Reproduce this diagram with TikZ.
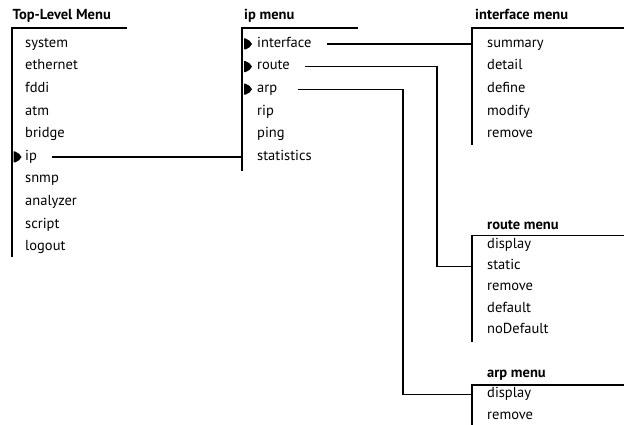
\documentclass[tikz,border=0pt]{standalone}
\usepackage{fontspec}
\setmainfont{PT Sans}
\begin{document}
\begin{tikzpicture}[x=1pt,y=-1pt,
  item/.style={anchor=west, inner sep=0pt, font=\fontsize{14.5}{16}\selectfont,
    text height=9.5pt, text depth=3pt},
  heading/.style={item, font=\fontsize{14.5}{16}\selectfont\bfseries},
  frame/.style={line width=1.1pt},
  link/.style={line width=1.1pt},
  pointer/.pic={\fill (-0.5,-5.5) -- (1,-5.5) .. controls (4,-5) and (6.5,-2) .. (7.5,0)
      .. controls (6.5,2) and (4,5) .. (1,5.5) -- (-0.5,5.5) -- cycle;}]
\useasboundingbox (0,0) rectangle (624,425);

% Top-Level Menu
\node[heading] (tl-title) at (12.5,16.5) {Top-Level Menu};
\coordinate (tl-top) at (12,28);
\coordinate (tl-bot) at (12,257);
\draw[frame] (127,28) -- (tl-top) -- (tl-bot);
\foreach \t [count=\i from 0] in {system,ethernet,fddi,atm,bridge,ip,snmp,analyzer,script,logout}
  \node[item] (tl-\t) at (25,44+22.6*\i) {\t};
\pic at (14,0 |- tl-ip.west) {pointer};

% ip menu
\node[heading] (ip-title) at (244,16.5) {ip menu};
\coordinate (ip-top) at (242,28);
\coordinate (ip-bot) at (242,171);
\draw[frame] (358,28) -- (ip-top) -- (ip-bot);
\foreach \t [count=\i from 0] in {interface,route,arp,rip,ping,statistics}
  \node[item] (ip-\t) at (257,44+22.6*\i) {\t};
\foreach \t in {interface,route,arp}
  \pic at (244.5,0 |- ip-\t.west) {pointer};

% interface menu
\node[heading] (if-title) at (475,16.5) {interface menu};
\coordinate (if-top) at (472,28);
\coordinate (if-bot) at (472,145);
\draw[frame] (624,28) -- (if-top) -- (if-bot);
\foreach \t [count=\i from 0] in {summary,detail,define,modify,remove}
  \node[item] (if-\t) at (487,44+22.6*\i) {\t};

% route menu
\node[heading] (rt-title) at (487,226) {route menu};
\coordinate (rt-top) at (472,235.5);
\coordinate (rt-bot) at (472,342);
\draw[frame] (624,235.5) -- (rt-top) -- (rt-bot);
\foreach \t [count=\i from 0] in {display,static,remove,default,noDefault}
  \node[item] (rt-\t) at (487,245+21.3*\i) {\t};

% arp menu
\node[heading] (ar-title) at (487,374.5) {arp menu};
\coordinate (ar-top) at (472,385);
\coordinate (ar-bot) at (472,425);
\draw[frame] (624,385) -- (ar-top) -- (ar-bot);
\foreach \t [count=\i from 0] in {display,remove}
  \node[item] (ar-\t) at (487,394.5+21.3*\i) {\t};

% connectors between menus
\draw[link] (52,0 |- tl-ip.west) -- (ip-top |- tl-ip.west);
\draw[link] (327,0 |- ip-interface.west) -- (if-top |- ip-interface.west);
\draw[link] (305,0 |- ip-route.west) -| (437,0 |- rt-static.west) -- (rt-top |- rt-static.west);
\draw[link] (298,0 |- ip-arp.west) -| (403,0 |- ar-display.west) -- (ar-top |- ar-display.west);
\end{tikzpicture}
\end{document}
